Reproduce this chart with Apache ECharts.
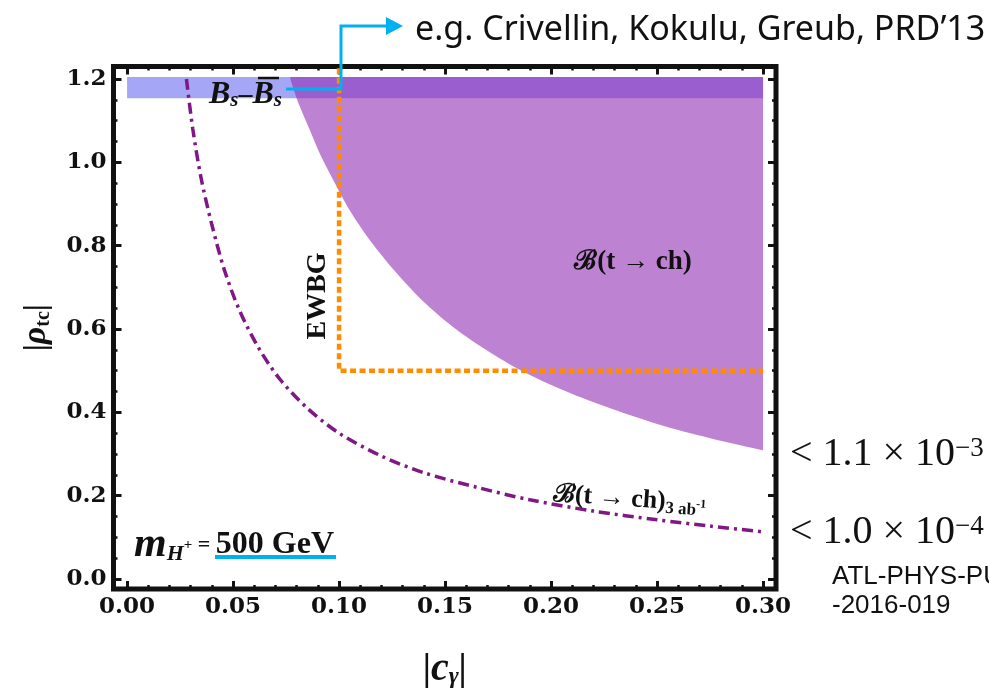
<!DOCTYPE html>
<html>
<head>
<meta charset="utf-8">
<script src="https://cdn.jsdelivr.net/npm/echarts@6/dist/echarts.min.js"></script>
<style>
  html, body { margin: 0; padding: 0; background: #fff; }
  #chart { width: 989px; height: 695px; }
</style>
</head>
<body>
<div id="chart"></div>
<script>
// boundary of the region excluded by B(t -> ch) < 1.1e-3
const tchX = [0.077, 0.081, 0.086, 0.091, 0.097, 0.105, 0.115, 0.127, 0.140, 0.155, 0.170, 0.186, 0.205, 0.225, 0.250, 0.275, 0.300];
const tchY = [1.200, 1.140, 1.080, 1.020, 0.960, 0.885, 0.810, 0.735, 0.665, 0.600, 0.548, 0.500, 0.455, 0.415, 0.372, 0.338, 0.309];

// HL-LHC 3 ab^-1 reach (dash-dot)
const hlX = [0.028, 0.031, 0.035, 0.040, 0.046, 0.053, 0.062, 0.072, 0.085, 0.100, 0.120, 0.140, 0.165, 0.190, 0.220, 0.250, 0.275, 0.300];
const hlY = [1.200, 1.080, 0.960, 0.850, 0.740, 0.645, 0.555, 0.480, 0.410, 0.350, 0.295, 0.255, 0.220, 0.190, 0.163, 0.142, 0.127, 0.113];

// EWBG corner (orange dotted)
const ewbgX = [0.1, 0.1, 0.3];
const ewbgY = [1.226, 0.5, 0.5];

// Bs - Bsbar mixing band
const bsX = [0.0, 0.3];
const bsY = [1.154, 1.205];

const xLabels = ['0.00', '0.05', '0.10', '0.15', '0.20', '0.25', '0.30'];
const yLabels = ['0.0', '0.2', '0.4', '0.6', '0.8', '1.0', '1.2'];
const xMajor = xLabels.map(Number);
const yMajor = yLabels.map(Number);
const xMinor = [];
for (let i = 1; i < 30; i++) if (i % 5) xMinor.push(+(i * 0.01).toFixed(2));
const yMinor = [];
for (let i = 1; i < 24; i++) if (i % 4) yMinor.push(+(i * 0.05).toFixed(2));

// frame padding like Mathematica's plot range padding
const xRange = [-0.0064, 0.3061];
const yRange = [-0.024, 1.2299];

const zip = (xs, ys) => xs.map((x, i) => [x, ys[i]]);

const serif = '"Liberation Serif", "DejaVu Serif", serif';
const tickFont = '"DejaVu Serif", serif';
const ink = '#111';
const cyan = '#00b0f0';

const chart = echarts.init(document.getElementById('chart'));

function tickAxis(kind, pos, values, len, width, showLabel) {
  const isX = kind === 'x';
  const labels = isX ? xLabels : yLabels;
  const step = isX ? 0.05 : 0.2;
  return {
    type: 'value', position: pos,
    min: isX ? xRange[0] : yRange[0],
    max: isX ? xRange[1] : yRange[1],
    axisLine: { show: false, onZero: false },
    splitLine: { show: false },
    axisTick: { show: true, inside: true, length: len, customValues: values, lineStyle: { color: ink, width: width } },
    axisLabel: {
      show: showLabel, customValues: values, margin: 7, color: ink,
      fontFamily: tickFont, fontWeight: 'bold', fontSize: 23,
      formatter: v => labels[Math.round(v / step)]
    }
  };
}

const xBottom = tickAxis('x', 'bottom', xMajor, 8, 3, true);
xBottom.name = '{p||}{c|c}{s|γ}{p||}';
xBottom.nameLocation = 'middle';
xBottom.nameGap = 62;
xBottom.nameTextStyle = {
  rich: {
    p: { fontFamily: serif, fontWeight: 'bold', fontSize: 37, color: ink, lineHeight: 38, verticalAlign: 'middle' },
    c: { fontFamily: serif, fontWeight: 'bold', fontStyle: 'italic', fontSize: 40, color: ink, lineHeight: 38, verticalAlign: 'middle' },
    s: { fontFamily: serif, fontWeight: 'bold', fontStyle: 'italic', fontSize: 24, color: ink, lineHeight: 12, verticalAlign: 'bottom' }
  }
};

const yLeft = tickAxis('y', 'left', yMajor, 8, 3, true);
yLeft.name = '{p||}{r|ρ}{s|tc}{p||}';
yLeft.nameLocation = 'middle';
yLeft.nameRotate = 90;
yLeft.nameGap = 60;
yLeft.nameTextStyle = {
  rich: {
    p: { fontFamily: serif, fontWeight: 'bold', fontSize: 32, color: ink, lineHeight: 34, verticalAlign: 'middle' },
    r: { fontFamily: serif, fontWeight: 'bold', fontStyle: 'italic', fontSize: 34, color: ink, lineHeight: 34, verticalAlign: 'middle' },
    s: { fontFamily: serif, fontWeight: 'bold', fontSize: 20, color: ink, lineHeight: 12, verticalAlign: 'bottom' }
  }
};

const option = {
  animation: false,
  backgroundColor: '#fff',
  grid: {
    show: true, left: 113.5, top: 66.5, right: 213, bottom: 104,
    borderColor: ink, borderWidth: 5, backgroundColor: 'transparent'
  },
  xAxis: [
    xBottom,
    tickAxis('x', 'bottom', xMinor, 4, 2.5, false),
    tickAxis('x', 'top', xMajor, 8, 3, false),
    tickAxis('x', 'top', xMinor, 4, 2.5, false)
  ],
  yAxis: [
    yLeft,
    tickAxis('y', 'left', yMinor, 4, 2.5, false),
    tickAxis('y', 'right', yMajor, 8, 3, false),
    tickAxis('y', 'right', yMinor, 4, 2.5, false)
  ],
  series: [
    {
      name: 'Bs mixing', type: 'custom', z: 1,
      data: [[bsX[0], bsY[0]]],
      renderItem: (params, api) => {
        const a = api.coord([bsX[0], bsY[1]]);
        const b = api.coord([bsX[1], bsY[0]]);
        return {
          type: 'rect',
          shape: { x: a[0], y: a[1], width: b[0] - a[0], height: b[1] - a[1] },
          style: { fill: '#a6a6f6' }
        };
      }
    },
    {
      name: 'B(t->ch)', type: 'line', z: 2,
      data: zip(tchX, tchY), smooth: 0.3,
      symbol: 'none', lineStyle: { width: 0, opacity: 0 },
      areaStyle: { color: 'rgb(147,47,180)', opacity: 0.6, origin: bsY[1] }
    },
    {
      name: '3 ab-1', type: 'line', z: 3,
      data: zip(hlX, hlY), smooth: 0.3,
      symbol: 'none',
      lineStyle: { color: '#801784', width: 3.5, type: [11, 5, 3, 5] }
    },
    {
      name: 'EWBG', type: 'line', z: 4, clip: false,
      data: zip(ewbgX, ewbgY),
      symbol: 'none',
      lineStyle: { color: '#ff8c00', width: 4.5, type: [6, 3.5] }
    }
  ],
  graphic: [
    // pointer to the reference
    {
      type: 'polyline', z: 11,
      shape: { points: [[286, 89], [341, 89], [341, 26], [389, 26]] },
      style: { stroke: cyan, lineWidth: 3, fill: 'none' }
    },
    {
      type: 'polygon', z: 11,
      shape: { points: [[386, 17], [403, 26], [386, 35]] },
      style: { fill: cyan }
    },
    {
      type: 'text', z: 11, x: 415, y: 30,
      style: {
        text: 'e.g. Crivellin, Kokulu, Greub, PRD\u201913',
        font: '34px "Noto Sans", sans-serif', fill: ink,
        align: 'left', verticalAlign: 'middle', textAlign: 'left', textVerticalAlign: 'middle'
      }
    },
    // Bs - Bsbar label
    {
      type: 'text', z: 11, x: 209, y: 95,
      style: {
        text: '{b|B}{s|s}{d|\u2013}{b|B}{s|s}',
        fill: ink, align: 'left', verticalAlign: 'middle', textAlign: 'left', textVerticalAlign: 'middle',
        rich: {
          b: { font: 'italic bold 32px ' + serif, fill: ink, lineHeight: 32, verticalAlign: 'middle' },
          d: { font: 'bold 28px ' + serif, fill: ink, lineHeight: 32, verticalAlign: 'middle' },
          s: { font: 'italic bold 21px ' + serif, fill: ink, lineHeight: 12, verticalAlign: 'bottom' }
        }
      }
    },
    {
      type: 'line', z: 11,
      shape: { x1: 258, y1: 78, x2: 279, y2: 78 },
      style: { stroke: ink, lineWidth: 2.5 }
    },
    // EWBG
    {
      type: 'text', z: 11, x: 318, y: 296, rotation: Math.PI / 2,
      style: {
        text: 'EWBG', font: 'bold 28px ' + serif, fill: ink,
        align: 'center', verticalAlign: 'middle', textAlign: 'center', textVerticalAlign: 'middle'
      }
    },
    // B(t -> ch) current
    {
      type: 'text', z: 11, x: 633, y: 262,
      style: {
        text: '\u212C(t \u2192 ch)', font: 'bold 27px ' + serif, fill: ink,
        align: 'center', verticalAlign: 'middle', textAlign: 'center', textVerticalAlign: 'middle'
      }
    },
    // B(t -> ch) 3 ab^-1
    {
      type: 'text', z: 11, x: 553, y: 494, rotation: -0.07,
      style: {
        text: '{m|\u212C(t \u2192 ch)}{s|3 ab}{u|-1}',
        fill: ink, align: 'left', verticalAlign: 'middle', textAlign: 'left', textVerticalAlign: 'middle',
        rich: {
          m: { font: 'bold 26px ' + serif, fill: ink, lineHeight: 30, verticalAlign: 'middle' },
          s: { font: 'bold 17px ' + serif, fill: ink, lineHeight: 10, verticalAlign: 'bottom' },
          u: { font: 'bold 12px ' + serif, fill: ink, lineHeight: 12, verticalAlign: 'middle' }
        }
      }
    },
    // m_H+ = 500 GeV
    {
      type: 'text', z: 11, x: 134, y: 545,
      style: {
        text: '{m|m}{s|H}{u|+}{e| = }{g|500 GeV}',
        fill: ink, align: 'left', verticalAlign: 'middle', textAlign: 'left', textVerticalAlign: 'middle',
        rich: {
          m: { font: 'italic bold 42px ' + serif, fill: ink, lineHeight: 40, verticalAlign: 'middle' },
          s: { font: 'italic bold 22px ' + serif, fill: ink, lineHeight: 14, verticalAlign: 'bottom' },
          u: { font: 'bold 15px ' + serif, fill: ink, lineHeight: 16, verticalAlign: 'middle' },
          e: { font: 'bold 22px ' + serif, fill: ink, lineHeight: 40, verticalAlign: 'middle' },
          g: { font: 'bold 32px ' + serif, fill: ink, lineHeight: 40, verticalAlign: 'middle' }
        }
      }
    },
    {
      type: 'line', z: 11,
      shape: { x1: 215, y1: 557, x2: 336, y2: 557 },
      style: { stroke: cyan, lineWidth: 4 }
    },
    // limits on the right
    {
      type: 'text', z: 11, x: 790, y: 454,
      style: {
        text: '{m|< 1.1 \u00D7 10}{u|\u22123}',
        fill: ink, align: 'left', verticalAlign: 'middle', textAlign: 'left', textVerticalAlign: 'middle',
        rich: {
          m: { font: '40px ' + serif, fill: ink, lineHeight: 38, verticalAlign: 'middle' },
          u: { font: '27px ' + serif, fill: ink, lineHeight: 16, verticalAlign: 'top' }
        }
      }
    },
    {
      type: 'text', z: 11, x: 790, y: 532,
      style: {
        text: '{m|< 1.0 \u00D7 10}{u|\u22124}',
        fill: ink, align: 'left', verticalAlign: 'middle', textAlign: 'left', textVerticalAlign: 'middle',
        rich: {
          m: { font: '40px ' + serif, fill: ink, lineHeight: 38, verticalAlign: 'middle' },
          u: { font: '27px ' + serif, fill: ink, lineHeight: 16, verticalAlign: 'top' }
        }
      }
    },
    {
      type: 'text', z: 11, x: 832, y: 577,
      style: {
        text: 'ATL-PHYS-PUB', font: '26px "Liberation Sans", Arial, sans-serif', fill: ink,
        align: 'left', verticalAlign: 'middle', textAlign: 'left', textVerticalAlign: 'middle'
      }
    },
    {
      type: 'text', z: 11, x: 832, y: 606,
      style: {
        text: '-2016-019', font: '26px "Liberation Sans", Arial, sans-serif', fill: ink,
        align: 'left', verticalAlign: 'middle', textAlign: 'left', textVerticalAlign: 'middle'
      }
    }
  ]
};

chart.setOption(option);
</script>
</body>
</html>
